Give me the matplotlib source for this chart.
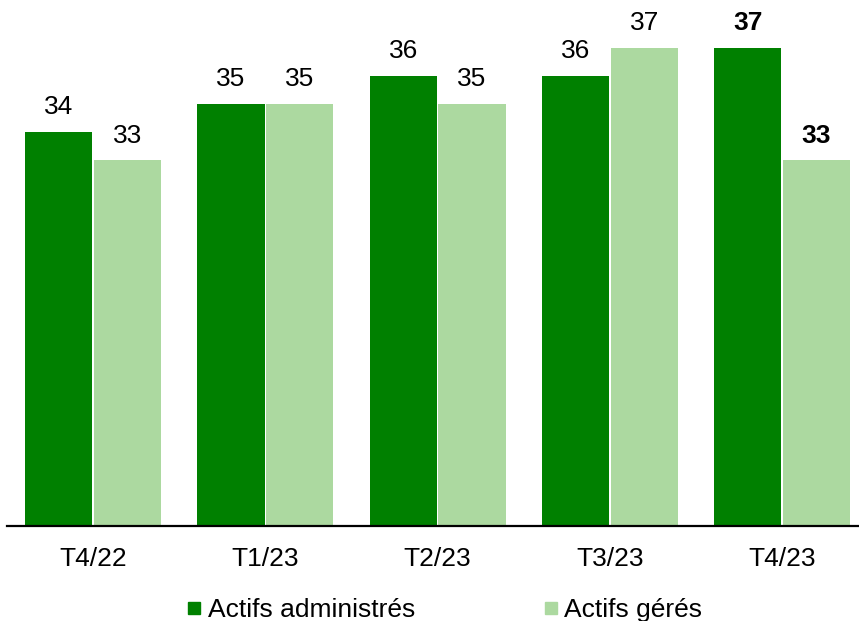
import matplotlib
matplotlib.use("Agg")
import matplotlib.pyplot as plt
from matplotlib.lines import Line2D
import numpy as np

plt.rcParams['font.family'] = ['Liberation Sans', 'DejaVu Sans']

categories = ["T4/22", "T1/23", "T2/23", "T3/23", "T4/23"]
administres = [34, 35, 36, 36, 37]
geres = [33, 35, 35, 37, 33]
series_names = ["Actifs administrés", "Actifs gérés"]
colors = ["#008000", "#acd9a0"]

W, H = 859, 621
fig = plt.figure(figsize=(W / 100, H / 100), dpi=100)
ax = fig.add_axes([7 / W, (H - 526) / H, 852 / W, 526 / H])

x = np.arange(len(categories))
bw = 0.39
off = 0.2
b1 = ax.bar(x - off, administres, bw, color=colors[0], zorder=2)
b2 = ax.bar(x + off, geres, bw, color=colors[1], zorder=2)

ax.set_xlim(-0.5, -0.5 + 852 / 172.25)
ax.set_ylim(20, 20 + 528 / 28.25)

last = len(categories) - 1
for bars, vals in ((b1, administres), (b2, geres)):
    for i, (rect, v) in enumerate(zip(bars, vals)):
        ax.annotate(f"{v}", (rect.get_x() + rect.get_width() / 2, v),
                    xytext=(0, 9), textcoords="offset points",
                    ha="center", va="bottom", fontsize=19,
                    fontweight="bold" if i == last else "normal")

for s in ("top", "right", "left"):
    ax.spines[s].set_visible(False)
ax.spines["bottom"].set_linewidth(1.6)
ax.spines["bottom"].set_color("black")
ax.set_yticks([])
ax.set_xticks(x)
ax.set_xticklabels(categories, fontsize=19)
ax.tick_params(axis="x", length=0, pad=15)

handles = [Line2D([], [], marker="s", linestyle="none", markersize=8.5,
                  markerfacecolor=c, markeredgecolor=c) for c in colors]
fig.legend(handles, series_names, loc="center", bbox_to_anchor=(0.518, 0.018),
           ncol=2, frameon=False, fontsize=19, handlelength=0.5,
           handletextpad=0.25, columnspacing=4.9)

fig.savefig("out.png", dpi=100)
